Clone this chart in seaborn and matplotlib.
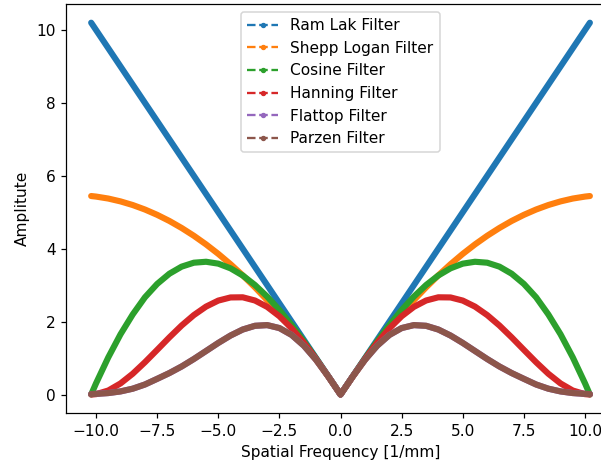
import matplotlib
matplotlib.use("Agg")
import matplotlib.pyplot as plt
from matplotlib.lines import Line2D
import seaborn as sns
import pandas as pd

# Spatial frequency samples [1/mm]
freq = [-10.2, -10.0, -9.5, -9.0, -8.5, -8.0, -7.5, -7.0, -6.5, -6.0, -5.5,
        -5.0, -4.5, -4.0, -3.5, -3.0, -2.5, -2.0, -1.5, -1.0, -0.5, 0.0,
        0.5, 1.0, 1.5, 2.0, 2.5, 3.0, 3.5, 4.0, 4.5, 5.0, 5.5,
        6.0, 6.5, 7.0, 7.5, 8.0, 8.5, 9.0, 9.5, 10.0, 10.2]

ram_lak = [10.2, 10.0, 9.5, 9.0, 8.5, 8.0, 7.5, 7.0, 6.5, 6.0, 5.5,
           5.0, 4.5, 4.0, 3.5, 3.0, 2.5, 2.0, 1.5, 1.0, 0.5, 0.0,
           0.5, 1.0, 1.5, 2.0, 2.5, 3.0, 3.5, 4.0, 4.5, 5.0, 5.5,
           6.0, 6.5, 7.0, 7.5, 8.0, 8.5, 9.0, 9.5, 10.0, 10.2]

shepp_logan = [5.445, 5.430, 5.376, 5.298, 5.198, 5.075, 4.929, 4.761, 4.569, 4.355, 4.118,
               3.858, 3.575, 3.269, 2.940, 2.589, 2.214, 1.817, 1.397, 0.954, 0.489, 0.0,
               0.489, 0.954, 1.397, 1.817, 2.214, 2.589, 2.940, 3.269, 3.575, 3.858, 4.118,
               4.355, 4.569, 4.761, 4.929, 5.075, 5.198, 5.298, 5.376, 5.430, 5.445]

cosine = [0.0, 0.308, 1.019, 1.652, 2.197, 2.667, 3.034, 3.314, 3.508, 3.616, 3.642,
          3.590, 3.462, 3.265, 3.004, 2.686, 2.317, 1.906, 1.460, 0.988, 0.499, 0.0,
          0.499, 0.988, 1.460, 1.906, 2.317, 2.686, 3.004, 3.265, 3.462, 3.590, 3.642,
          3.616, 3.508, 3.314, 3.034, 2.667, 2.197, 1.652, 1.019, 0.308, 0.0]

hanning = [0.0, 0.010, 0.110, 0.304, 0.570, 0.886, 1.225, 1.568, 1.893, 2.179, 2.412,
           2.577, 2.663, 2.667, 2.579, 2.404, 2.147, 1.816, 1.421, 0.976, 0.497, 0.0,
           0.497, 0.976, 1.421, 1.816, 2.147, 2.404, 2.579, 2.667, 2.663, 2.577, 2.412,
           2.179, 1.893, 1.568, 1.225, 0.886, 0.570, 0.304, 0.110, 0.010, 0.0]

flattop = [0.012, 0.018, 0.040, 0.085, 0.160, 0.275, 0.430, 0.589, 0.769, 0.974, 1.194,
           1.415, 1.618, 1.783, 1.885, 1.904, 1.823, 1.634, 1.339, 0.951, 0.494, 0.0,
           0.494, 0.951, 1.339, 1.634, 1.823, 1.904, 1.885, 1.783, 1.618, 1.415, 1.194,
           0.974, 0.769, 0.589, 0.430, 0.275, 0.160, 0.085, 0.040, 0.018, 0.012]

parzen = [0.012, 0.018, 0.040, 0.085, 0.160, 0.275, 0.430, 0.589, 0.769, 0.974, 1.194,
          1.415, 1.618, 1.783, 1.885, 1.904, 1.823, 1.634, 1.339, 0.951, 0.494, 0.0,
          0.494, 0.951, 1.339, 1.634, 1.823, 1.904, 1.885, 1.783, 1.618, 1.415, 1.194,
          0.974, 0.769, 0.589, 0.430, 0.275, 0.160, 0.085, 0.040, 0.018, 0.012]

filter_names = ["Ram Lak Filter", "Shepp Logan Filter", "Cosine Filter",
                "Hanning Filter", "Flattop Filter", "Parzen Filter"]
filter_values = [ram_lak, shepp_logan, cosine, hanning, flattop, parzen]

x_label = "Spatial Frequency [1/mm]"
y_label = "Amplitute"

DPI = 110.6
fig = plt.figure(figsize=(601 / DPI, 467 / DPI), dpi=DPI)
ax = fig.add_axes([0.1102, 0.1154, 0.9128, 0.8758])

colors = sns.color_palette("tab10", len(filter_names))

handles = []
for name, vals, col in zip(filter_names, filter_values, colors):
    df = pd.DataFrame({"freq": freq, "amp": vals})
    sns.lineplot(data=df, x="freq", y="amp", ax=ax, color=col, estimator=None,
                 sort=False, linewidth=4.0, solid_capstyle="round",
                 solid_joinstyle="round", legend=False)
    handles.append(Line2D([0], [0], color=col, linestyle="--", marker=".",
                          linewidth=1.5, markersize=5, label=name))

ax.set_xlim(-11.22, 11.22)
ax.set_ylim(-0.51, 10.71)
ax.set_xticks([-10.0, -7.5, -5.0, -2.5, 0.0, 2.5, 5.0, 7.5, 10.0])
ax.set_xticklabels(["\u221210.0", "\u22127.5", "\u22125.0", "\u22122.5", "0.0",
                    "2.5", "5.0", "7.5", "10.0"])
ax.set_yticks([0, 2, 4, 6, 8, 10])
ax.set_xlabel(x_label)
ax.set_ylabel(y_label)
ax.legend(handles=handles, loc="upper center")

fig.savefig("out.png", dpi=DPI)
